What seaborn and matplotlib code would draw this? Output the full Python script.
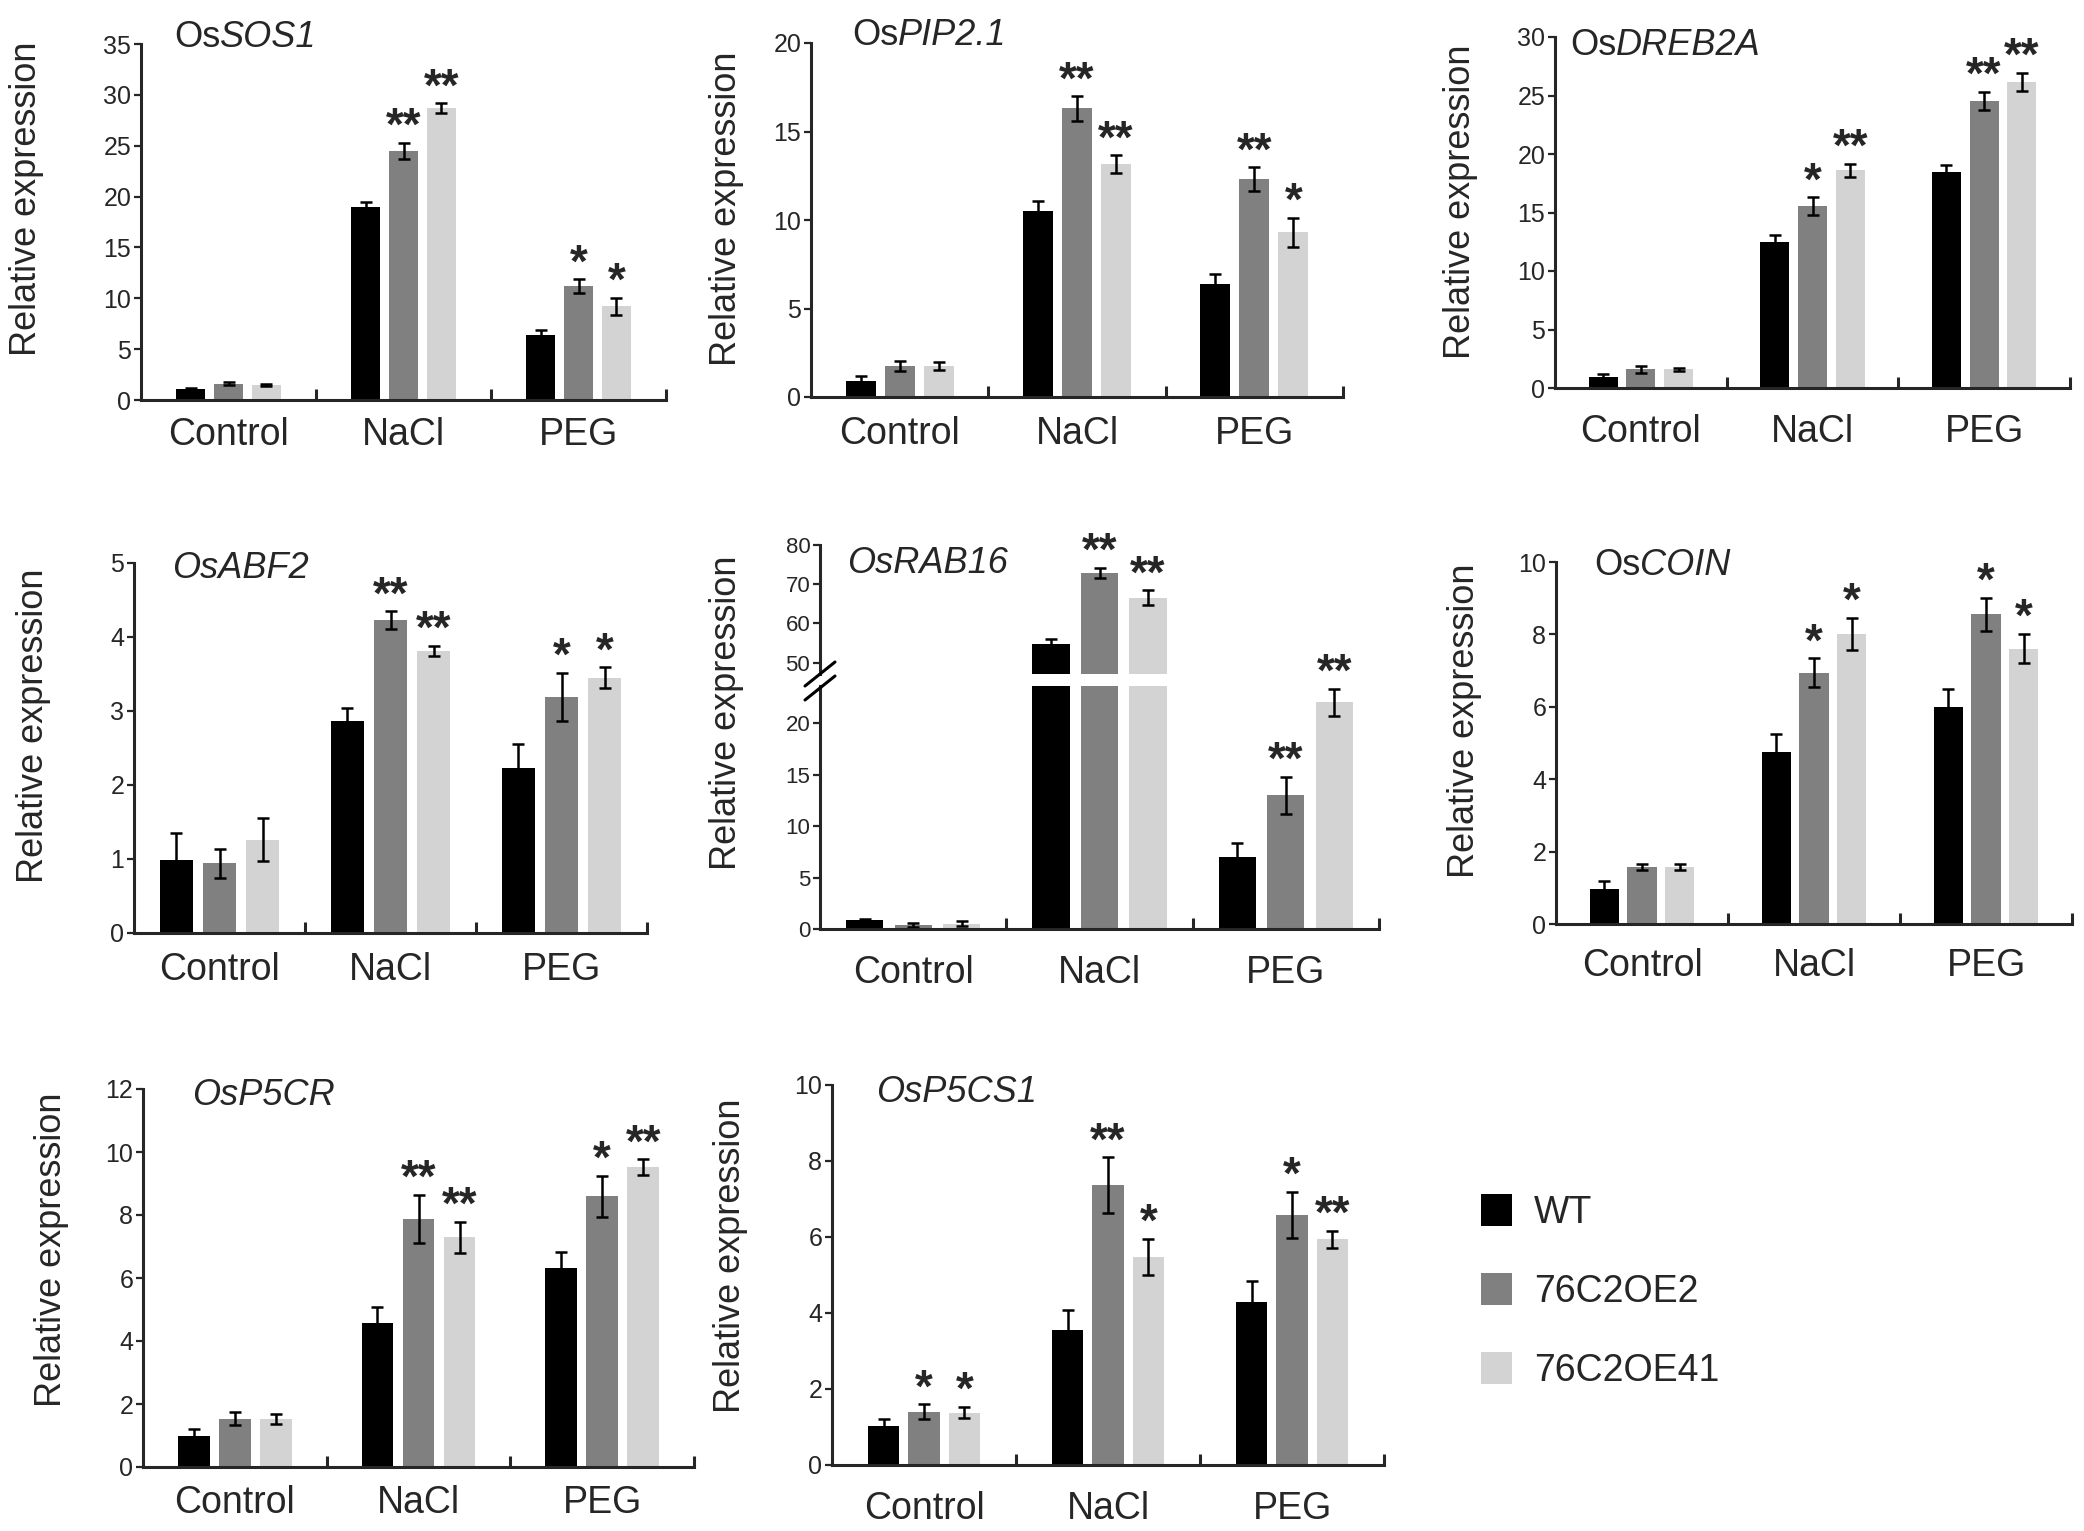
import matplotlib
matplotlib.use("Agg")
import matplotlib.pyplot as plt
from matplotlib.lines import Line2D
from matplotlib.patches import Patch
import pandas as pd
import seaborn as sns

TREATMENTS = ["Control", "NaCl", "PEG"]
LINES = ["WT", "76C2OE2", "76C2OE41"]
COLORS = ["#000000", "#808080", "#d3d3d3"]

# every list: Control (WT, OE2, OE41), NaCl (WT, OE2, OE41), PEG (WT, OE2, OE41)
SOS1_MEAN = [1.1, 1.6, 1.5, 19.0, 24.5, 28.7, 6.4, 11.2, 9.2]
SOS1_ERR = [0.1, 0.15, 0.1, 0.5, 0.8, 0.5, 0.5, 0.65, 0.85]
SOS1_SIG = ["", "", "", "", "**", "**", "", "*", "*"]

PIP21_MEAN = [0.9, 1.75, 1.75, 10.5, 16.3, 13.15, 6.4, 12.3, 9.3]
PIP21_ERR = [0.28, 0.28, 0.2, 0.56, 0.7, 0.5, 0.56, 0.67, 0.82]
PIP21_SIG = ["", "", "", "", "**", "**", "", "**", "*"]

DREB2A_MEAN = [0.95, 1.6, 1.6, 12.5, 15.55, 18.6, 18.45, 24.55, 26.15]
DREB2A_ERR = [0.25, 0.3, 0.15, 0.6, 0.77, 0.57, 0.62, 0.77, 0.8]
DREB2A_SIG = ["", "", "", "", "*", "**", "", "**", "**"]

ABF2_MEAN = [0.99, 0.94, 1.26, 2.86, 4.23, 3.81, 2.23, 3.19, 3.45]
ABF2_ERR = [0.36, 0.19, 0.29, 0.18, 0.12, 0.07, 0.32, 0.33, 0.14]
ABF2_SIG = ["", "", "", "", "**", "**", "", "*", "*"]

RAB16_MEAN = [0.9, 0.4, 0.5, 54.7, 72.9, 66.6, 7.0, 13.0, 22.0]
RAB16_ERR = [0.1, 0.2, 0.25, 1.3, 1.3, 1.9, 1.4, 1.8, 1.35]
RAB16_SIG = ["", "", "", "", "**", "**", "", "**", "**"]

COIN_MEAN = [0.96, 1.58, 1.58, 4.76, 6.94, 8.02, 6.0, 8.55, 7.61]
COIN_ERR = [0.23, 0.09, 0.09, 0.5, 0.4, 0.44, 0.5, 0.46, 0.41]
COIN_SIG = ["", "", "", "", "*", "*", "", "*", "*"]

P5CR_MEAN = [0.99, 1.53, 1.53, 4.58, 7.88, 7.29, 6.32, 8.59, 9.52]
P5CR_ERR = [0.21, 0.21, 0.15, 0.5, 0.76, 0.49, 0.52, 0.66, 0.25]
P5CR_SIG = ["", "", "", "", "**", "**", "", "*", "**"]

P5CS1_MEAN = [1.03, 1.4, 1.38, 3.55, 7.37, 5.48, 4.3, 6.58, 5.94]
P5CS1_ERR = [0.18, 0.2, 0.15, 0.53, 0.73, 0.48, 0.53, 0.61, 0.23]
P5CS1_SIG = ["", "*", "*", "", "**", "*", "", "*", "**"]

W, H = 2084, 1531
FONT = ["Liberation Sans", "DejaVu Sans"]


def rect(left, right, top, bottom):
    return [left / W, 1 - bottom / H, (right - left) / W, (bottom - top) / H]


def make_frame(mean):
    return pd.DataFrame({
        "treatment": [TREATMENTS[i // 3] for i in range(9)],
        "line": [LINES[i % 3] for i in range(9)],
        "value": mean,
    })


def draw_bars(ax, mean, err, sig, width):
    sns.barplot(data=make_frame(mean), x="treatment", y="value", hue="line",
                order=TREATMENTS, hue_order=LINES, palette=COLORS,
                errorbar=None, width=width, gap=0.23, linewidth=0,
                legend=False, ax=ax)
    bar_groups = list(ax.containers)[:3]
    ylo, yhi = ax.get_ylim()
    for j, container in enumerate(bar_groups):
        for i, bar in enumerate(container):
            k = i * 3 + j
            x = bar.get_x() + bar.get_width() / 2
            ax.errorbar(x, mean[k], yerr=err[k], fmt="none", ecolor="black",
                        elinewidth=1.8, capsize=4.5, capthick=1.8)
            top = mean[k] + err[k]
            if sig[k] and ylo <= top <= yhi:
                ax.annotate(sig[k], (x, top), xytext=(0, 2),
                            textcoords="offset points", ha="center",
                            va="baseline", fontsize=33, fontweight="bold",
                            annotation_clip=False)


def style(ax, ylim, yticks, xpad, tick_size=18, xaxis=True):
    ax.set_ylim(*ylim)
    ax.set_yticks(yticks)
    ax.set_xlim(-0.5, 2.5)
    ax.set_xlabel("")
    ax.set_ylabel("")
    sns.despine(ax=ax)
    ax.spines["left"].set_linewidth(2.2)
    ax.spines["bottom"].set_linewidth(2.2)
    ax.tick_params(axis="y", length=5, width=1.6, pad=2,
                   labelsize=tick_size, direction="out")
    if xaxis:
        ax.tick_params(axis="x", which="major", length=0, pad=xpad, labelsize=27)
        ax.set_xticks([0.5, 1.5, 2.5], minor=True)
        ax.tick_params(axis="x", which="minor", direction="in", length=8, width=2.2)
    else:
        ax.spines["bottom"].set_visible(False)
        ax.tick_params(axis="x", which="both", length=0, labelbottom=False)


def add_title(ax, prefix, gene, box, dx, dy):
    # "Os" upright when prefix is given, gene symbol in italics
    left, right, top, bottom = box
    pos = (dx / (right - left), 1 - dy / (bottom - top))
    if prefix:
        head = ax.text(*pos, prefix, transform=ax.transAxes, ha="left",
                       va="baseline", fontsize=26)
        ax.annotate(gene, xy=(1, 0), xycoords=head, ha="left", va="bottom",
                    fontsize=26, style="italic")
    else:
        ax.text(*pos, gene, transform=ax.transAxes, ha="left", va="baseline",
                fontsize=26, style="italic")


def add_ylabel(fig, x, y):
    fig.text(x / W, 1 - y / H, "Relative expression", rotation=90,
             ha="center", va="center", fontsize=26)


sns.set_style("ticks")
plt.rcParams["font.family"] = FONT

fig = plt.figure(figsize=(20.84, 15.31), dpi=100)

panels = [
    # data, title parts, box(left,right,top,bottom), ylim, yticks, width, xpad, title offset, ylabel pos
    (SOS1_MEAN, SOS1_ERR, SOS1_SIG, "Os", "SOS1", (141, 666, 44, 400),
     (0, 35), range(0, 36, 5), 0.65, 12, (33, 3), (27, 199)),
    (PIP21_MEAN, PIP21_ERR, PIP21_SIG, "Os", "PIP2.1", (811, 1343, 43, 397),
     (0, 20), range(0, 21, 5), 0.66, 14, (41, 2), (727, 209)),
    (DREB2A_MEAN, DREB2A_ERR, DREB2A_SIG, "Os", "DREB2A", (1555, 2070, 37, 388),
     (0, 30), range(0, 31, 5), 0.66, 19, (15, 18), (1460, 202)),
    (ABF2_MEAN, ABF2_ERR, ABF2_SIG, "", "OsABF2", (134, 647, 563, 933),
     (0, 5), range(0, 6), 0.76, 14, (38, 15), (34, 726)),
    (COIN_MEAN, COIN_ERR, COIN_SIG, "Os", "COIN", (1556, 2072, 562, 924),
     (0, 10), range(0, 11, 2), 0.66, 17, (38, 13), (1464, 721)),
    (P5CR_MEAN, P5CR_ERR, P5CR_SIG, "", "OsP5CR", (143, 694, 1089, 1467),
     (0, 12), range(0, 13, 2), 0.67, 13, (49, 16), (52, 1250)),
    (P5CS1_MEAN, P5CS1_ERR, P5CS1_SIG, "", "OsP5CS1", (832, 1384, 1085, 1465),
     (0, 10), range(0, 11, 2), 0.66, 19, (44, 17), (731, 1256)),
]

for mean, err, sig, prefix, gene, box, ylim, yticks, width, xpad, toff, ypos in panels:
    ax = fig.add_axes(rect(*box))
    ax.set_ylim(*ylim)
    draw_bars(ax, mean, err, sig, width)
    style(ax, ylim, list(yticks), xpad)
    add_title(ax, prefix, gene, box, *toff)
    add_ylabel(fig, *ypos)

# OsRAB16 with a broken y axis
upper_box = (820, 1379, 545, 674)
lower_box = (820, 1379, 686, 929)
ax_up = fig.add_axes(rect(*upper_box))
ax_up.set_ylim(47.1, 80)
draw_bars(ax_up, RAB16_MEAN, RAB16_ERR, RAB16_SIG, 0.78)
style(ax_up, (47.1, 80), [50, 60, 70, 80], 0, tick_size=16, xaxis=False)
add_title(ax_up, "", "OsRAB16", upper_box, 27, 28)

ax_low = fig.add_axes(rect(*lower_box))
ax_low.set_ylim(0, 23.6)
draw_bars(ax_low, RAB16_MEAN, RAB16_ERR, RAB16_SIG, 0.78)
style(ax_low, (0, 23.6), [0, 5, 10, 15, 20], 19, tick_size=16)
add_ylabel(fig, 727, 713)

for yc in (674, 688):
    fig.add_artist(Line2D([(820 - 15) / W, (820 + 15) / W],
                          [1 - (yc + 12) / H, 1 - (yc - 12) / H],
                          color="black", lw=2.2, transform=fig.transFigure))

handles = [Patch(facecolor=c, edgecolor="none") for c in COLORS]
fig.legend(handles, LINES, loc="upper left", bbox_to_anchor=(1481 / W, 1 - 1194 / H),
           frameon=False, fontsize=27, handlelength=0.82, handleheight=0.95,
           handletextpad=0.6, labelspacing=1.12, borderpad=0, borderaxespad=0)

fig.savefig("out.png", dpi=100, facecolor="white")
plt.close(fig)
